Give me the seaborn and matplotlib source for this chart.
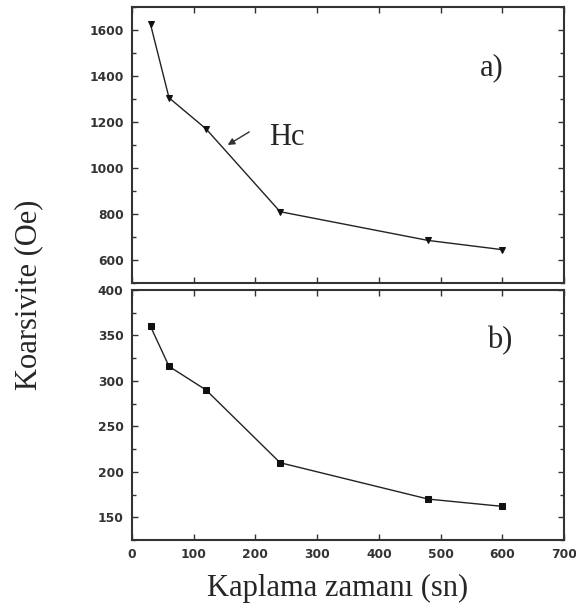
import numpy as np
import pandas as pd
import matplotlib
matplotlib.use("Agg")
import matplotlib.pyplot as plt
import seaborn as sns
from matplotlib.ticker import MultipleLocator
from matplotlib.font_manager import FontProperties

# Dati
zaman = [30, 60, 120, 240, 480, 600]
hc_a = [1625, 1305, 1170, 810, 685, 645]
hc_b = [360, 316, 290, 210, 170, 162]

sns.set_style("ticks")

fig = plt.figure(figsize=(5.76, 6.08), dpi=100)
ax1 = fig.add_axes([132 / 576, 1 - 283 / 608, 432 / 576, 276 / 608])
ax2 = fig.add_axes([132 / 576, 1 - 540 / 608, 432 / 576, 250 / 608])

df_a = pd.DataFrame({"x": zaman, "y": hc_a})
df_b = pd.DataFrame({"x": zaman, "y": hc_b})

sns.lineplot(data=df_a, x="x", y="y", ax=ax1, color="#222222", lw=1.0,
             marker="v", markersize=5, markeredgecolor="#111111", markerfacecolor="#111111")
sns.lineplot(data=df_b, x="x", y="y", ax=ax2, color="#222222", lw=1.0,
             marker="s", markersize=4, markeredgecolor="#111111", markerfacecolor="#111111")

tick_fp = FontProperties(family="DejaVu Sans", weight="bold", size=8.8)

for ax in (ax1, ax2):
    ax.set_xlim(0, 700)
    ax.xaxis.set_major_locator(MultipleLocator(100))
    ax.tick_params(which="both", direction="in", top=True, right=True, colors="#333333",
                   labelcolor="#333333")
    ax.tick_params(which="major", length=4, width=1, pad=6)
    ax.tick_params(which="minor", length=3, width=1)
    for s in ax.spines.values():
        s.set_linewidth(1.5)
        s.set_color("#333333")
    ax.set_xlabel("")
    ax.set_ylabel("")

ax1.set_ylim(500, 1700)
ax1.set_yticks([600, 800, 1000, 1200, 1400, 1600])
ax1.yaxis.set_minor_locator(MultipleLocator(100))
ax1.tick_params(labelbottom=False)

ax2.set_ylim(125, 400)
ax2.set_yticks([150, 200, 250, 300, 350, 400])
ax2.yaxis.set_minor_locator(MultipleLocator(25))

for ax in (ax1, ax2):
    for lab in ax.get_yticklabels() + ax.get_xticklabels():
        lab.set_fontproperties(tick_fp)

serif = "Liberation Serif"
ax1.text(0.805, 0.752, "a)", transform=ax1.transAxes, fontsize=22, family=serif)
ax2.text(0.821, 0.768, "b)", transform=ax2.transAxes, fontsize=22, family=serif)

ax1.annotate("", xy=(155, 1100), xytext=(190, 1157),
             arrowprops=dict(arrowstyle="-|>", color="#333333", lw=1.0,
                             mutation_scale=10, shrinkA=0, shrinkB=0))
ax1.text(222, 1098, "Hc", fontsize=22, family=serif)

fig.text(29 / 576, 1 - 295 / 608, "Koarsivite (Oe)", rotation=90, va="center", ha="center",
         fontsize=22, family=serif)
fig.text(338 / 576, 1 - 588 / 608, "Kaplama zamanı (sn)", va="center", ha="center",
         fontsize=22, family=serif)

fig.savefig("out.png", dpi=100)
